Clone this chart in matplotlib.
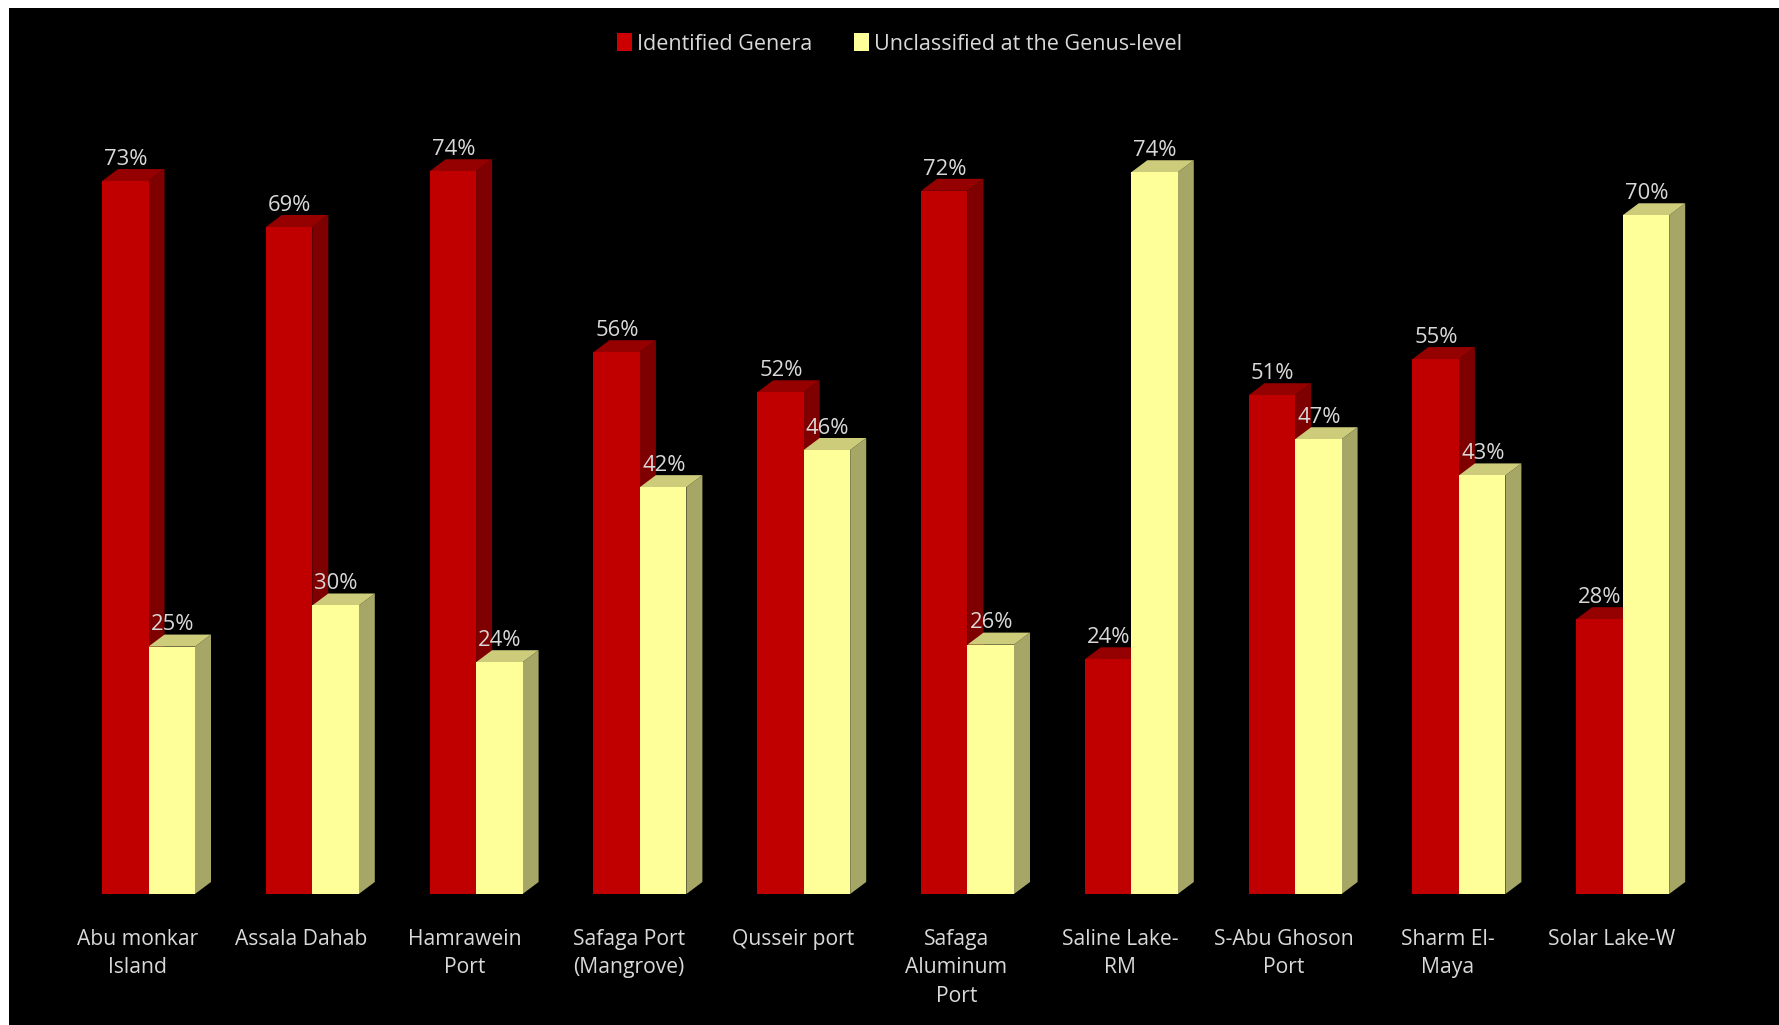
import matplotlib
matplotlib.use("Agg")
import matplotlib.pyplot as plt
from matplotlib.patches import Polygon, Patch, Rectangle

plt.rcParams['font.family'] = ['Open Sans', 'DejaVu Sans']

categories = ["Abu monkar\nIsland", "Assala Dahab", "Hamrawein\nPort", "Safaga Port\n(Mangrove)",
              "Qusseir port", "Safaga\nAluminum\nPort", "Saline Lake-\nRM", "S-Abu Ghoson\nPort",
              "Sharm El-\nMaya", "Solar Lake-W"]
identified = [72.9, 68.2, 73.9, 55.4, 51.3, 71.9, 24.0, 51.0, 54.7, 28.1]
unclassified = [25.3, 29.5, 23.7, 41.6, 45.4, 25.5, 73.8, 46.5, 42.8, 69.4]
identified_labels = ["73%", "69%", "74%", "56%", "52%", "72%", "24%", "51%", "55%", "28%"]
unclassified_labels = ["25%", "30%", "24%", "42%", "46%", "26%", "74%", "47%", "43%", "70%"]
series_names = ["Identified Genera", "Unclassified at the Genus-level"]

W, H = 1779, 1025
PITCH = 163.8          # px between groups
BAR = 46.5             # px bar width
DX_PX, DY_PX = 16, 12  # 3-D depth
PX_PER_PCT = 9.78
BASE_Y = 894
X0 = 137.5             # tick centre of group 0
BAR_SHIFT = 11 / PITCH
LEFT, TOP = 9, 8

fig = plt.figure(figsize=(W / 100, H / 100), dpi=100, facecolor='white')
fig.patches.append(Rectangle((LEFT / W, 0), 1 - LEFT / W, 1 - TOP / H, transform=fig.transFigure,
                             facecolor='black', edgecolor='none', zorder=-5))
ax = fig.add_axes([LEFT / W, 1 - BASE_Y / H, 1 - LEFT / W, (BASE_Y - TOP) / H])
ax.patch.set_alpha(0)
ax.set_xlim((LEFT - X0) / PITCH, (W - X0) / PITCH)
ax.set_ylim(0, (BASE_Y - TOP) / PX_PER_PCT)

w = BAR / PITCH
dx, dy = DX_PX / PITCH, DY_PX / PX_PER_PCT


def bar3d(x_left, h, front, side, top, z):
    ax.bar(x_left, h, width=w, align='edge', color=front, linewidth=0, zorder=z)
    ax.add_patch(Polygon([(x_left + w, 0), (x_left + w + dx, dy), (x_left + w + dx, h + dy), (x_left + w, h)],
                         closed=True, facecolor=side, edgecolor='none', zorder=z - 0.1, clip_on=False))
    ax.add_patch(Polygon([(x_left, h), (x_left + dx, h + dy), (x_left + w + dx, h + dy), (x_left + w, h)],
                         closed=True, facecolor=top, edgecolor='none', zorder=z - 0.1, clip_on=False))


RED = ("#C00000", "#7F0000", "#950000")
YEL = ("#FFFF99", "#A6A666", "#CCCC7A")
for i in range(len(categories)):
    z = 3 + i
    xl = i + BAR_SHIFT - w
    bar3d(xl, identified[i], *RED, z)
    bar3d(xl + w, unclassified[i], *YEL, z + 0.5)
    for xx, v, s in ((xl, identified[i], identified_labels[i]), (xl + w, unclassified[i], unclassified_labels[i])):
        ax.annotate(s, (xx + w / 2 + 0.004, v + dy), xytext=(0, 3), textcoords='offset points',
                    ha='center', va='baseline', color='#D9D9D9', fontsize=15.8, zorder=50)

ax.set_xticks(range(len(categories)))
ax.set_xticklabels(categories, fontsize=15.2, color='#D9D9D9', linespacing=1.47)
ax.tick_params(axis='x', length=0, pad=25)
ax.set_yticks([])
for s in ax.spines.values():
    s.set_visible(False)

handles = [Patch(facecolor="#CC0000", label=series_names[0]), Patch(facecolor="#FFFF99", label=series_names[1])]
ax.legend(handles=handles, loc='upper left', bbox_to_anchor=((610.5 - LEFT) / (W - LEFT), 1 - (26.8 - TOP) / (BASE_Y - TOP)),
          ncol=2, frameon=False, fontsize=15.5, labelcolor='#D9D9D9', handlelength=0.7, handleheight=0.9,
          handletextpad=0.25, columnspacing=1.9, borderpad=0.3, borderaxespad=0)

fig.savefig("out.png", dpi=100, facecolor='white')
